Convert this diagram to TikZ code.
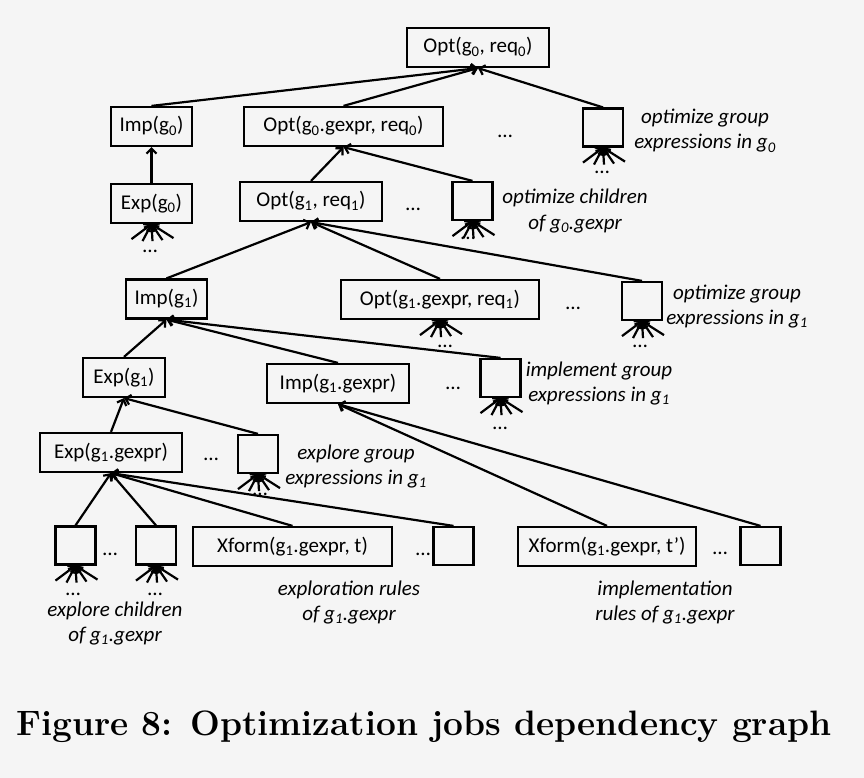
\documentclass[tikz,border=0pt]{standalone}
\usepackage{fontspec}
\usepackage{tikz}
\usetikzlibrary{arrows.meta,calc}
\newfontfamily\calibri{Carlito}
\newcommand{\gsub}[1]{\textsubscript{#1}}
\def\fanin(#1){\foreach \dx/\dy [count=\k] in {-20/15,-9/17,1/17,11/16,22/14} {\coordinate (#1-in\k) at ($(#1.south)+(\dx,\dy)$); \draw[job] (#1-in\k) -- (#1.south);}}
\tikzset{
  job/.style={line width=2.2pt, -{Straight Barb[length=5pt,width=10pt]}},
  task/.style={draw, line width=2.2pt, minimum height=39pt, inner sep=0pt, text height=15pt, text depth=4pt, font=\calibri\fontsize{21}{25}\selectfont},
  slot/.style={draw, line width=2.2pt, minimum width=40pt, minimum height=38pt, inner sep=0pt},
  more/.style={anchor=base, inner sep=0pt, font=\calibri\fontsize{21}{25}\selectfont},
  note/.style={anchor=base, inner sep=0pt, align=center, font=\calibri\itshape\fontsize{21}{25}\selectfont}
}

\begin{document}
\begin{tikzpicture}[x=1pt, y=-1pt]
			%%%%% START %%%%%
			
			\fill[white!96!black] (0,0) rectangle (864,778);
			
			\node[task, minimum width=142pt] (optTop) at (478,47.5) {Opt(g\gsub{0}, req\gsub{0})};
			
			\node[task, minimum width=81pt] (impZero) at (151.5,126.5) {Imp(g\gsub{0})};
			\node[task, minimum width=199pt] (optZeroGx) at (343.5,126.5) {Opt(g\gsub{0}.gexpr, req\gsub{0})};
			\node[more] (dotsA) at (505,138) {…};
			\node[slot] (boxA) at (603,127.5) {};
			\node[note] (noteA) at (705,149) {optimize group\\expressions in g\gsub{0}};
			
			\node[task, minimum width=81pt] (expZero) at (151.5,203.5) {Exp(g\gsub{0})};
			\node[task, minimum width=142pt] (optOne) at (311,201.5) {Opt(g\gsub{1}, req\gsub{1})};
			\node[more] (dotsB) at (413,210) {…};
			\node[slot] (boxB) at (472.5,201) {};
			\node[note] (noteB) at (575,229) {optimize children\\of g\gsub{0}.gexpr};
			
			\node[task, minimum width=81pt] (impOne) at (166.5,299) {Imp(g\gsub{1})};
			\node[task, minimum width=198pt] (optOneGx) at (440,299.5) {Opt(g\gsub{1}.gexpr, req\gsub{1})};
			\node[more] (dotsC) at (573,309) {…};
			\node[slot] (boxC) at (642,301) {};
			\node[note] (noteC) at (737,324) {optimize group\\expressions in g\gsub{1}};
			
			\node[task, minimum width=82pt] (expOne) at (124,377.5) {Exp(g\gsub{1})};
			\node[task, minimum width=142pt] (impOneGx) at (338,383.5) {Imp(g\gsub{1}.gexpr)};
			\node[more] (dotsD) at (453,389) {…};
			\node[slot] (boxD) at (500.5,378) {};
			\node[note] (noteD) at (599,401) {implement group\\expressions in g\gsub{1}};
			
			\node[task, minimum width=142pt] (expOneGx) at (111,452.5) {Exp(g\gsub{1}.gexpr)};
			\node[more] (dotsE) at (211,460) {…};
			\node[slot] (boxE) at (258,454) {};
			\node[note] (noteE) at (356,484) {explore group\\expressions in g\gsub{1}};
			
			\node[slot] (boxF) at (75.5,545.5) {};
			\node[more] (dotsF) at (110,555) {…};
			\node[slot] (boxG) at (156,545.5) {};
			\node[task, minimum width=199pt] (xfT) at (292.5,546.5) {Xform(g\gsub{1}.gexpr, t)};
			\node[more] (dotsG) at (423,555) {…};
			\node[slot] (boxH) at (453.5,546) {};
			\node[task, minimum width=178pt] (xfTp) at (607,546.5) {Xform(g\gsub{1}.gexpr, t’)};
			\node[more] (dotsH) at (720,554) {…};
			\node[slot] (boxI) at (760.5,546) {};
			
			\node[note] (noteF) at (115,641) {explore children\\of g\gsub{1}.gexpr};
			\node[note] (noteG) at (349,620) {exploration rules\\of g\gsub{1}.gexpr};
			\node[note] (noteH) at (665,620) {implementation\\rules of g\gsub{1}.gexpr};
			
			\draw[job] (impZero.north) -- (optTop.south);
			\draw[job] (optZeroGx.north) -- (optTop.south);
			\draw[job] (boxA.north) -- (optTop.south);
			
			\draw[job] (expZero.north) -- (impZero.south);
			\draw[job] (optOne.north) -- (optZeroGx.south);
			\draw[job] (boxB.north) -- (optZeroGx.south);
			
			\draw[job] (impOne.north) -- (optOne.south);
			\draw[job] (optOneGx.north) -- (optOne.south);
			\draw[job] (boxC.north) -- (optOne.south);
			
			\draw[job] (expOne.north) -- (impOne.south);
			\draw[job] (impOneGx.north) -- (impOne.south);
			\draw[job] (boxD.north) -- (impOne.south);
			
			\draw[job] (expOneGx.north) -- (expOne.south);
			\draw[job] (boxE.north) -- (expOne.south);
			
			\draw[job] (boxF.north) -- (expOneGx.south);
			\draw[job] (boxG.north) -- (expOneGx.south);
			\draw[job] (xfT.north) -- (expOneGx.south);
			\draw[job] (boxH.north) -- (expOneGx.south);
			
			\draw[job] (xfTp.north) -- (impOneGx.south);
			\draw[job] (boxI.north) -- (impOneGx.south);
			
			% open inputs below the jobs
			\fanin(expZero)
			\fanin(boxA)
			\fanin(boxB)
			\fanin(optOneGx)
			\fanin(boxC)
			\fanin(boxD)
			\fanin(boxE)
			\fanin(boxF)
			\fanin(boxG)
			
			\node[more] (moreExpZero) at (150,252) {…};
			\node[more] (moreA) at (602,174) {…};
			\node[more] (moreB) at (468,239) {…};
			\node[more] (moreOptOneGx) at (445,347) {…};
			\node[more] (moreC) at (640,347) {…};
			\node[more] (moreD) at (500,429) {…};
			\node[more] (moreE) at (260,495) {…};
			\node[more] (moreF) at (73,595) {…};
			\node[more] (moreG) at (155,595) {…};
			
			\node[anchor=base west, inner sep=0pt, font=\fontsize{35.3}{40}\selectfont\bfseries] (caption) at (16,735) {Figure 8: Optimization jobs dependency graph};
			
			%%%%% END %%%%%
		\end{tikzpicture}
\end{document}
